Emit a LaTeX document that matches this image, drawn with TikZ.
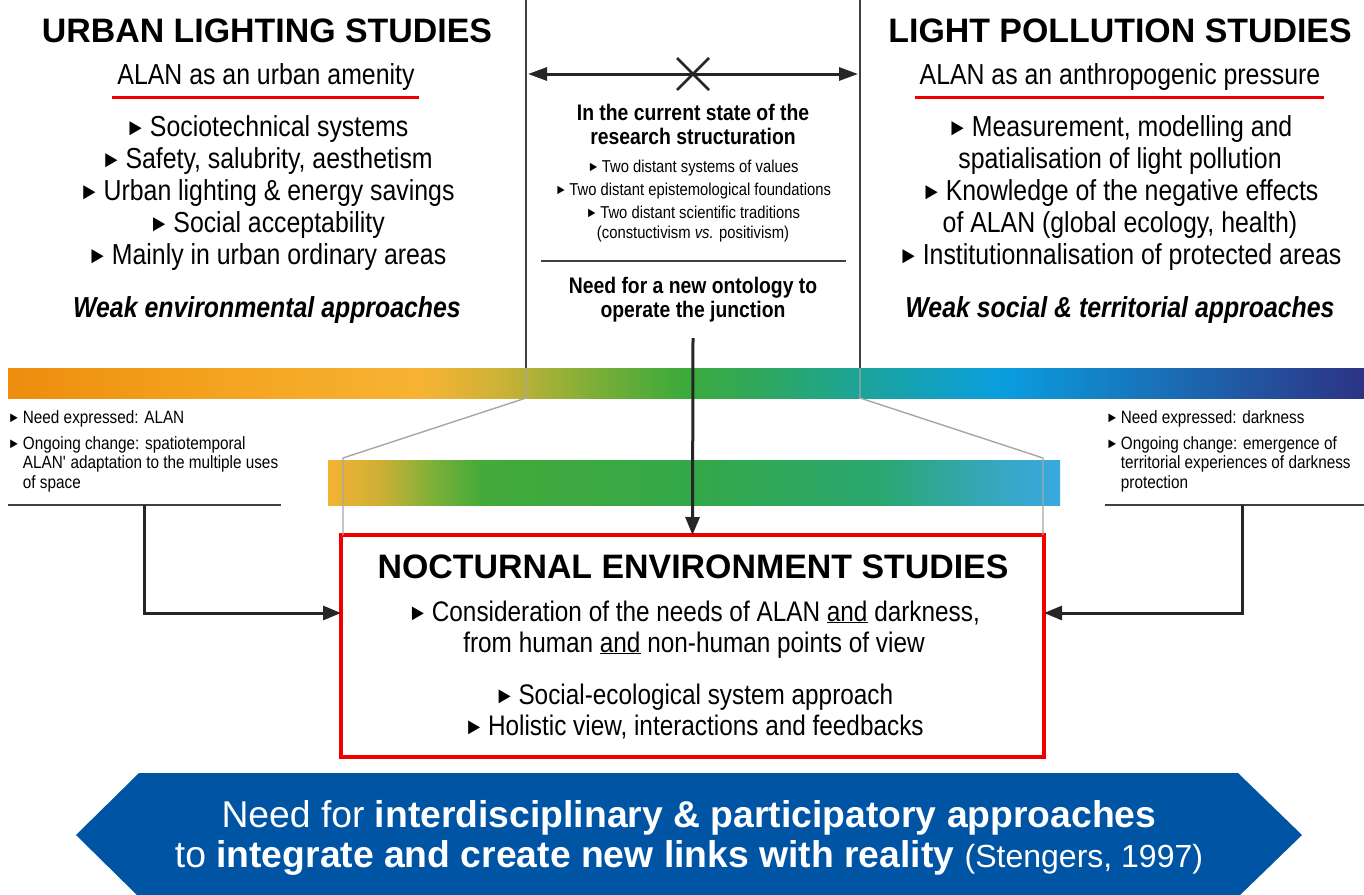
\documentclass[tikz,border=0pt]{standalone}
\usepackage{fontspec}
\setmainfont{Liberation Sans}
\newfontfamily\narrowsf[FakeStretch=0.86]{Liberation Sans}
\usepackage{xcolor}
\usetikzlibrary{positioning,arrows.meta}

\definecolor{alanred}{RGB}{238,0,0}
\definecolor{bannerblue}{RGB}{0,84,164}
% colours of the upper light bar
\definecolor{tba}{RGB}{238,140,14}
\definecolor{tbb}{RGB}{243,162,30}
\definecolor{tbc}{RGB}{248,179,52}
\definecolor{tbd}{RGB}{205,178,54}
\definecolor{tbe}{RGB}{120,174,56}
\definecolor{tbf}{RGB}{61,170,58}
\definecolor{tbg}{RGB}{46,168,92}
\definecolor{tbh}{RGB}{26,163,159}
\definecolor{tbi}{RGB}{10,158,223}
\definecolor{tbj}{RGB}{24,115,186}
\definecolor{tbk}{RGB}{45,51,132}
% colours of the lower light bar
\definecolor{lba}{RGB}{244,178,51}
\definecolor{lbb}{RGB}{205,176,53}
\definecolor{lbc}{RGB}{128,176,56}
\definecolor{lbd}{RGB}{68,170,58}
\definecolor{lbe}{RGB}{51,168,74}
\definecolor{lbf}{RGB}{43,167,112}
\definecolor{lbg}{RGB}{53,167,181}
\definecolor{lbh}{RGB}{58,169,226}

\pgfdeclarehorizontalshading{topbar}{100bp}{color(0bp)=(tba); color(25bp)=(tba);
  color(32.1bp)=(tbb); color(40.2bp)=(tbc); color(43.1bp)=(tbd); color(46.8bp)=(tbe);
  color(49.8bp)=(tbf); color(52.7bp)=(tbg); color(56.8bp)=(tbh); color(61.6bp)=(tbi);
  color(67.1bp)=(tbj); color(75bp)=(tbk); color(100bp)=(tbk)}
\pgfdeclarehorizontalshading{lowbar}{100bp}{color(0bp)=(lba); color(25bp)=(lba);
  color(28.6bp)=(lbb); color(32bp)=(lbc); color(35.4bp)=(lbd); color(50.4bp)=(lbe);
  color(62.7bp)=(lbf); color(69.5bp)=(lbg); color(75bp)=(lbh); color(100bp)=(lbh)}

\newcommand{\bul}{\raisebox{0.5pt}{\scalebox{0.82}{►}}\hspace{0.14em}}

\begin{document}
\begin{tikzpicture}[
    x=1pt, y=-1pt,
    every node/.style={inner sep=0pt, outer sep=0pt},
    colhead/.style={font=\fontsize{33.9}{36}\selectfont\bfseries},
    sub/.style={font=\narrowsf\fontsize{28.9}{32}\selectfont},
    bodytext/.style={font=\narrowsf\fontsize{28.9}{32}\selectfont, align=center},
    weak/.style={font=\narrowsf\fontsize{28.9}{32}\selectfont\bfseries\itshape},
    midhead/.style={font=\narrowsf\fontsize{22.5}{23.5}\selectfont\bfseries, align=center},
    midtext/.style={font=\narrowsf\fontsize{17.2}{23}\selectfont, align=center},
    note/.style={font=\narrowsf\fontsize{17.8}{19.5}\selectfont, align=left},
    arrow/.style={-{Triangle[length=18pt, width=14pt]}, line width=3pt, draw=black!85},
    twoway/.style={{Triangle[length=19pt, width=13pt]}-{Triangle[length=19pt, width=13pt]}, line width=3pt, draw=black!85},
    guide/.style={line width=1.4pt, draw=black!35},
    divider/.style={line width=1.2pt, draw=black!75},
    redline/.style={line width=3pt, draw=alanred},
    nesframe/.style={draw=alanred, line width=3.5pt, minimum width=703pt, minimum height=222pt}
  ]
  \useasboundingbox (0,0) rectangle (1364,894);

  % --- Urban lighting studies (left) ---
  \node[colhead, anchor=base] (ulstitle) at (267,42) {URBAN LIGHTING STUDIES};
  \node[sub, anchor=base] (ulssub) at (266,84) {ALAN as an urban amenity};
  \draw[redline] ([xshift=-5pt, yshift=-13pt]ulssub.base west) -- ([xshift=4pt, yshift=-13pt]ulssub.base east);
  \node[bodytext, anchor=base] (ulslist) at (267,264) {\bul Sociotechnical systems\\
    \bul Safety, salubrity, aesthetism\\
    \bul Urban lighting \& energy savings\\
    \bul Social acceptability\\
    \bul Mainly in urban ordinary areas};
  \node[weak, anchor=base] (ulsweak) at (267,317) {Weak environmental approaches};

  % --- Light pollution studies (right) ---
  \node[colhead, anchor=base] (lpstitle) at (1120,42) {LIGHT POLLUTION STUDIES};
  \node[sub, anchor=base] (lpssub) at (1120,84) {ALAN as an anthropogenic pressure};
  \draw[redline] ([xshift=-5pt, yshift=-13pt]lpssub.base west) -- ([xshift=4pt, yshift=-13pt]lpssub.base east);
  \node[bodytext, anchor=base] (lpslist) at (1120,264) {\bul Measurement, modelling and\\
    spatialisation of light pollution\\
    \bul Knowledge of the negative effects\\
    of ALAN (global ecology, health)\\
    \bul Institutionnalisation of protected areas};
  \node[weak, anchor=base] (lpsweak) at (1120,317) {Weak social \& territorial approaches};

  % --- Junction posts ---
  \coordinate (lpostT) at (526,0);
  \coordinate (lpostM) at (526,368);
  \coordinate (lpostB) at (526,398);
  \coordinate (lkink) at (343,458);
  \coordinate (rpostT) at (860,0);
  \coordinate (rpostM) at (860,368);
  \coordinate (rpostB) at (860,398);
  \coordinate (rkink) at (1043,458);
  \coordinate (lgap) at (526,74);
  \coordinate (rgap) at (860,74);
  \coordinate (cross) at (693,74);

  \draw[divider] (lpostT) -- (lpostM);
  \draw[divider] (rpostT) -- (rpostM);
  \draw[twoway, shorten <=2pt, shorten >=2pt] (lgap) -- (rgap);
  \draw[line width=2.6pt, draw=black!85] ([shift={(-16,-16)}]cross) -- ([shift={(16,16)}]cross)
    ([shift={(-16,16)}]cross) -- ([shift={(16,-16)}]cross);

  % --- Current state of research ---
  \node[midhead, anchor=base] (state) at (693,144) {In the current state of the\\research structuration};
  \node[midtext, anchor=base] (distant) at (693,238) {\bul Two distant systems of values\\
    \bul Two distant epistemological foundations\\
    \bul Two distant scientific traditions\\[-3pt]
    (constuctivism \emph{vs.} positivism)};
  \coordinate (divL) at (541,261);
  \coordinate (divR) at (846,261);
  \draw[divider] (divL) -- (divR);
  \node[midhead, anchor=base] (ontology) at (693,317) {Need for a new ontology to\\operate the junction};
  \coordinate (ontoarrow) at (693,338);

  % --- Light bars ---
  \shade[shading=topbar] (8,368) rectangle (1364,398);
  \shade[shading=lowbar] (328,460) rectangle (1060,505);

  % --- Nocturnal environment studies ---
  \node[nesframe] (nes) at (692.5,646) {};
  \node[colhead, anchor=base] (nestitle) at (693,578) {NOCTURNAL ENVIRONMENT STUDIES};
  \node[bodytext, font=\narrowsf\fontsize{28.3}{31}\selectfont, anchor=base] (neslist) at (694,735) {\bul Consideration of the needs of ALAN \underline{and} darkness,\\
    from human \underline{and} non-human points of view\\[21pt]
    \bul Social-ecological system approach\\
    \bul Holistic view, interactions and feedbacks};

  % --- Guides from the upper bar to the box ---
  \draw[guide] (lpostM) -- (lpostB) -- (lkink) -- (lkink |- nes.north);
  \draw[guide] (rpostM) -- (rpostB) -- (rkink) -- (rkink |- nes.north);
  \draw[arrow] (ontoarrow) -- (nes.north);

  % --- Side needs ---
  \node[note, anchor=base west] (lneed) at (8,423) {\bul Need expressed: ALAN};
  \node[note, anchor=base west] (lchange) at (8,488) {\bul Ongoing change: spatiotemporal\\
    \phantom{\bul}ALAN\textquotesingle{} adaptation to the multiple uses\\
    \phantom{\bul}of space};
  \coordinate (lruleL) at (8,505);
  \coordinate (lruleR) at (281,505);
  \coordinate (lfoot) at (144,505);
  \draw[divider] (lruleL) -- (lruleR);
  \draw[arrow] (lfoot) |- ([yshift=33pt]nes.west);

  \node[note, anchor=base west] (rneed) at (1106,423) {\bul Need expressed: darkness};
  \node[note, anchor=base west] (rchange) at (1106,488) {\bul Ongoing change: emergence of\\
    \phantom{\bul}territorial experiences of darkness\\
    \phantom{\bul}protection};
  \coordinate (rruleL) at (1105,505);
  \coordinate (rruleR) at (1364,505);
  \coordinate (rfoot) at (1242,505);
  \draw[divider] (rruleL) -- (rruleR);
  \draw[arrow] (rfoot) |- ([yshift=33pt]nes.east);

  % --- Banner ---
  \fill[bannerblue] (139,773) -- (1238,773) -- (1302,835) -- (1238,897) -- (139,897) -- (76,835) -- cycle;
  \node[anchor=base, align=center, text=white, font=\fontsize{37.3}{40}\selectfont] (needlinks) at (689,867)
    {Need for \textbf{interdisciplinary \& participatory approaches}\\
    to \textbf{integrate and create new links with reality} {\fontsize{32}{40}\selectfont(Stengers, 1997)}};

\end{tikzpicture}
\end{document}
